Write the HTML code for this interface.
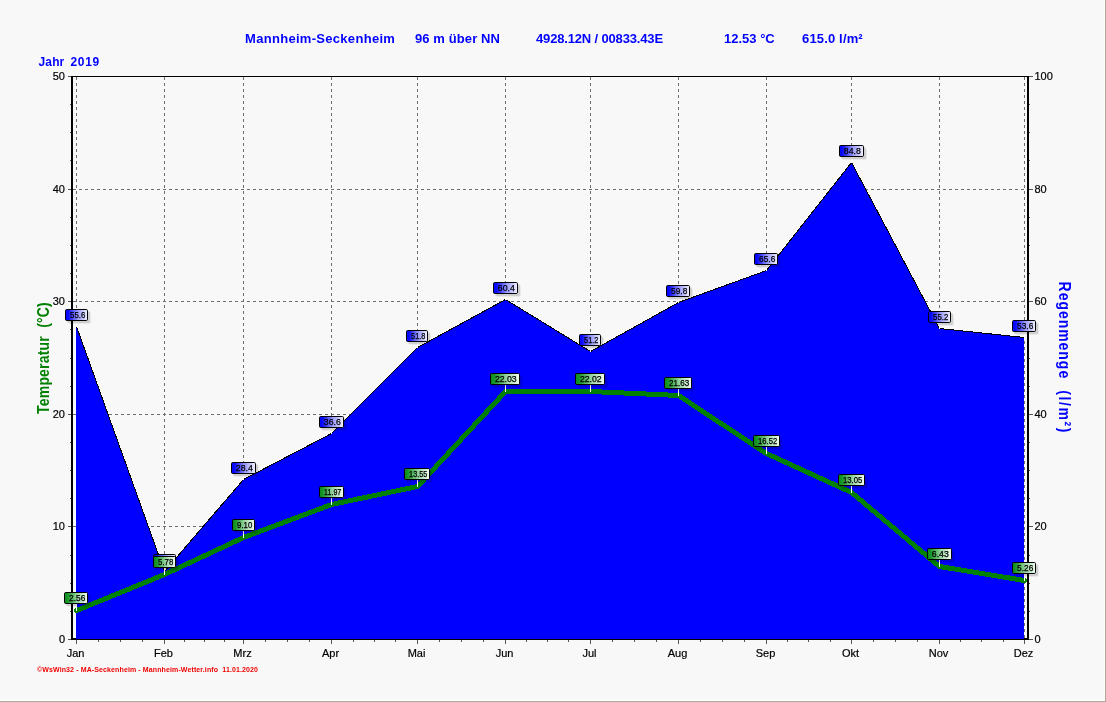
<!DOCTYPE html>
<html lang="de">
<head>
<meta charset="utf-8">
<title>Mannheim-Seckenheim Jahr 2019</title>
<style>
html,body{margin:0;padding:0;background:#f8f8f8;}
body{width:1106px;height:702px;overflow:hidden;position:relative;font-family:"Liberation Sans",Arial,sans-serif;}
svg{position:absolute;left:0;top:0;display:block;}
text{font-family:"Liberation Sans",Arial,sans-serif;}
.t{font-size:13px;font-weight:bold;fill:#0000ff;}
.tk{font-size:11px;fill:#000;stroke:#000;stroke-width:.2px;}
.lb{font-size:8.7px;fill:#000;text-anchor:middle;stroke:#000;stroke-width:.25px;}
.g{stroke:#6e6e6e;stroke-width:1;stroke-dasharray:3 3;shape-rendering:crispEdges;fill:none;}
.ax{fill:#000;shape-rendering:crispEdges;}
.mt{stroke:#555;stroke-width:1;shape-rendering:crispEdges;}
</style>
</head>
<body>
<svg width="1106" height="702" viewBox="0 0 1106 702">
<defs>
<linearGradient id="gb" x1="0" y1="0" x2="1" y2="0"><stop offset="0" stop-color="#0000ff"/><stop offset="0.14" stop-color="#0c0cff"/><stop offset="0.55" stop-color="#9898ff"/><stop offset="1" stop-color="#f2f2ff"/></linearGradient>
<linearGradient id="gg" x1="0" y1="0" x2="1" y2="0"><stop offset="0" stop-color="#0a8a1a"/><stop offset="0.14" stop-color="#189828"/><stop offset="0.55" stop-color="#98d4a0"/><stop offset="1" stop-color="#f2fff2"/></linearGradient>
</defs>
<rect x="0" y="0" width="1106" height="702" fill="#f8f8f8"/>
<rect class="ax" x="1104" y="0" width="1" height="701" style="fill:#fff"/>
<rect class="ax" x="0" y="700" width="1105" height="1" style="fill:#fff"/>
<rect class="ax" x="1105" y="0" width="1" height="702" style="fill:#aca899"/>
<rect class="ax" x="0" y="701" width="1106" height="1" style="fill:#aca899"/>

<text class="t" x="245" y="43" style="letter-spacing:.3px">Mannheim-Seckenheim</text>
<text class="t" x="415" y="43" style="letter-spacing:.1px">96 m über NN</text>
<text class="t" x="536" y="43" style="letter-spacing:-.16px">4928.12N / 00833.43E</text>
<text class="t" x="724" y="43">12.53 °C</text>
<text class="t" x="802" y="43" style="letter-spacing:.16px">615.0 l/m²</text>
<text class="t" x="38.6" y="66" style="font-size:12px;letter-spacing:.1px">Jahr</text>
<text class="t" x="70.6" y="66" style="font-size:12px;letter-spacing:.6px">2019</text>
<rect class="ax" x="71" y="76" width="958" height="1"/>
<rect class="ax" x="71" y="76" width="2" height="564"/>
<rect class="ax" x="1027" y="76" width="2" height="564"/>
<rect class="ax" x="71" y="638" width="958" height="2"/>
<path class="g" d="M73 526.5H1027"/>
<path class="g" d="M73 414.5H1027"/>
<path class="g" d="M73 301.5H1027"/>
<path class="g" d="M73 189.5H1027"/>
<path class="g" d="M76.5 77V639"/>
<path class="g" d="M164.5 77V639"/>
<path class="g" d="M243.5 77V639"/>
<path class="g" d="M331.5 77V639"/>
<path class="g" d="M417.5 77V639"/>
<path class="g" d="M505.5 77V639"/>
<path class="g" d="M590.5 77V639"/>
<path class="g" d="M678.5 77V639"/>
<path class="g" d="M766.5 77V639"/>
<path class="g" d="M851.5 77V639"/>
<path class="g" d="M939.5 77V639"/>
<path class="g" d="M1024.5 77V639"/>
<polygon points="76,639 76,326.5 76.5,326.5 164.5,571.5 243.5,479.5 331.5,433.5 417.5,347.5 505.5,299.5 590.5,351.5 678.5,302.5 766.5,270.5 851.5,162.5 939.5,328.5 1024.5,337.5 1024,337.5 1024,639" fill="#0000ff" shape-rendering="crispEdges"/>
<polyline points="76.5,326.5 164.5,571.5 243.5,479.5 331.5,433.5 417.5,347.5 505.5,299.5 590.5,351.5 678.5,302.5 766.5,270.5 851.5,162.5 939.5,328.5 1024.5,337.5" fill="none" stroke="#000" stroke-width="1" shape-rendering="crispEdges"/>
<polyline points="76.5,610.5 164.5,574.5 243.5,537.5 331.5,504.5 417.5,486.5 505.5,391.5 590.5,391.5 678.5,395.5 766.5,453.5 851.5,492.5 939.5,566.5 1024.5,580.5" fill="none" stroke="#008000" stroke-width="5" stroke-linejoin="round" stroke-linecap="round" shape-rendering="crispEdges"/>
<rect class="ax" x="68" y="639" width="3" height="1" style="fill:#555"/>
<rect class="ax" x="1029" y="639" width="4" height="1" style="fill:#555"/>
<rect class="ax" x="70" y="611" width="1" height="1" style="fill:#555"/>
<rect class="ax" x="1029" y="611" width="1" height="1" style="fill:#555"/>
<rect class="ax" x="70" y="583" width="1" height="1" style="fill:#555"/>
<rect class="ax" x="1029" y="583" width="1" height="1" style="fill:#555"/>
<rect class="ax" x="70" y="555" width="1" height="1" style="fill:#555"/>
<rect class="ax" x="1029" y="555" width="1" height="1" style="fill:#555"/>
<rect class="ax" x="68" y="526" width="3" height="1" style="fill:#555"/>
<rect class="ax" x="1029" y="526" width="4" height="1" style="fill:#555"/>
<rect class="ax" x="70" y="498" width="1" height="1" style="fill:#555"/>
<rect class="ax" x="1029" y="498" width="1" height="1" style="fill:#555"/>
<rect class="ax" x="70" y="470" width="1" height="1" style="fill:#555"/>
<rect class="ax" x="1029" y="470" width="1" height="1" style="fill:#555"/>
<rect class="ax" x="70" y="442" width="1" height="1" style="fill:#555"/>
<rect class="ax" x="1029" y="442" width="1" height="1" style="fill:#555"/>
<rect class="ax" x="68" y="414" width="3" height="1" style="fill:#555"/>
<rect class="ax" x="1029" y="414" width="4" height="1" style="fill:#555"/>
<rect class="ax" x="70" y="386" width="1" height="1" style="fill:#555"/>
<rect class="ax" x="1029" y="386" width="1" height="1" style="fill:#555"/>
<rect class="ax" x="70" y="358" width="1" height="1" style="fill:#555"/>
<rect class="ax" x="1029" y="358" width="1" height="1" style="fill:#555"/>
<rect class="ax" x="70" y="329" width="1" height="1" style="fill:#555"/>
<rect class="ax" x="1029" y="329" width="1" height="1" style="fill:#555"/>
<rect class="ax" x="68" y="301" width="3" height="1" style="fill:#555"/>
<rect class="ax" x="1029" y="301" width="4" height="1" style="fill:#555"/>
<rect class="ax" x="70" y="273" width="1" height="1" style="fill:#555"/>
<rect class="ax" x="1029" y="273" width="1" height="1" style="fill:#555"/>
<rect class="ax" x="70" y="245" width="1" height="1" style="fill:#555"/>
<rect class="ax" x="1029" y="245" width="1" height="1" style="fill:#555"/>
<rect class="ax" x="70" y="217" width="1" height="1" style="fill:#555"/>
<rect class="ax" x="1029" y="217" width="1" height="1" style="fill:#555"/>
<rect class="ax" x="68" y="189" width="3" height="1" style="fill:#555"/>
<rect class="ax" x="1029" y="189" width="4" height="1" style="fill:#555"/>
<rect class="ax" x="70" y="160" width="1" height="1" style="fill:#555"/>
<rect class="ax" x="1029" y="160" width="1" height="1" style="fill:#555"/>
<rect class="ax" x="70" y="132" width="1" height="1" style="fill:#555"/>
<rect class="ax" x="1029" y="132" width="1" height="1" style="fill:#555"/>
<rect class="ax" x="70" y="104" width="1" height="1" style="fill:#555"/>
<rect class="ax" x="1029" y="104" width="1" height="1" style="fill:#555"/>
<rect class="ax" x="68" y="76" width="3" height="1" style="fill:#555"/>
<rect class="ax" x="1029" y="76" width="4" height="1" style="fill:#555"/>
<text class="tk" x="65" y="643" text-anchor="end">0</text>
<text class="tk" x="1034.4" y="643">0</text>
<text class="tk" x="65" y="530" text-anchor="end">10</text>
<text class="tk" x="1034.4" y="530">20</text>
<text class="tk" x="65" y="418" text-anchor="end">20</text>
<text class="tk" x="1034.4" y="418">40</text>
<text class="tk" x="65" y="305" text-anchor="end">30</text>
<text class="tk" x="1034.4" y="305">60</text>
<text class="tk" x="65" y="193" text-anchor="end">40</text>
<text class="tk" x="1034.4" y="193">80</text>
<text class="tk" x="65" y="80" text-anchor="end">50</text>
<text class="tk" x="1034.4" y="80">100</text>
<rect class="ax" x="76" y="640" width="1" height="4" style="fill:#555"/>
<text class="tk" x="75.5" y="657" text-anchor="middle">Jan</text>
<rect class="ax" x="98" y="640" width="1" height="2" style="fill:#555"/>
<rect class="ax" x="120" y="640" width="1" height="2" style="fill:#555"/>
<rect class="ax" x="142" y="640" width="1" height="2" style="fill:#555"/>
<rect class="ax" x="164" y="640" width="1" height="4" style="fill:#555"/>
<text class="tk" x="163.5" y="657" text-anchor="middle">Feb</text>
<rect class="ax" x="184" y="640" width="1" height="2" style="fill:#555"/>
<rect class="ax" x="204" y="640" width="1" height="2" style="fill:#555"/>
<rect class="ax" x="224" y="640" width="1" height="2" style="fill:#555"/>
<rect class="ax" x="243" y="640" width="1" height="4" style="fill:#555"/>
<text class="tk" x="242.5" y="657" text-anchor="middle">Mrz</text>
<rect class="ax" x="265" y="640" width="1" height="2" style="fill:#555"/>
<rect class="ax" x="287" y="640" width="1" height="2" style="fill:#555"/>
<rect class="ax" x="309" y="640" width="1" height="2" style="fill:#555"/>
<rect class="ax" x="331" y="640" width="1" height="4" style="fill:#555"/>
<text class="tk" x="330.5" y="657" text-anchor="middle">Apr</text>
<rect class="ax" x="353" y="640" width="1" height="2" style="fill:#555"/>
<rect class="ax" x="374" y="640" width="1" height="2" style="fill:#555"/>
<rect class="ax" x="395" y="640" width="1" height="2" style="fill:#555"/>
<rect class="ax" x="417" y="640" width="1" height="4" style="fill:#555"/>
<text class="tk" x="416.5" y="657" text-anchor="middle">Mai</text>
<rect class="ax" x="439" y="640" width="1" height="2" style="fill:#555"/>
<rect class="ax" x="461" y="640" width="1" height="2" style="fill:#555"/>
<rect class="ax" x="483" y="640" width="1" height="2" style="fill:#555"/>
<rect class="ax" x="505" y="640" width="1" height="4" style="fill:#555"/>
<text class="tk" x="504.5" y="657" text-anchor="middle">Jun</text>
<rect class="ax" x="526" y="640" width="1" height="2" style="fill:#555"/>
<rect class="ax" x="547" y="640" width="1" height="2" style="fill:#555"/>
<rect class="ax" x="568" y="640" width="1" height="2" style="fill:#555"/>
<rect class="ax" x="590" y="640" width="1" height="4" style="fill:#555"/>
<text class="tk" x="589.5" y="657" text-anchor="middle">Jul</text>
<rect class="ax" x="612" y="640" width="1" height="2" style="fill:#555"/>
<rect class="ax" x="634" y="640" width="1" height="2" style="fill:#555"/>
<rect class="ax" x="656" y="640" width="1" height="2" style="fill:#555"/>
<rect class="ax" x="678" y="640" width="1" height="4" style="fill:#555"/>
<text class="tk" x="677.5" y="657" text-anchor="middle">Aug</text>
<rect class="ax" x="700" y="640" width="1" height="2" style="fill:#555"/>
<rect class="ax" x="722" y="640" width="1" height="2" style="fill:#555"/>
<rect class="ax" x="744" y="640" width="1" height="2" style="fill:#555"/>
<rect class="ax" x="766" y="640" width="1" height="4" style="fill:#555"/>
<text class="tk" x="765.5" y="657" text-anchor="middle">Sep</text>
<rect class="ax" x="787" y="640" width="1" height="2" style="fill:#555"/>
<rect class="ax" x="808" y="640" width="1" height="2" style="fill:#555"/>
<rect class="ax" x="830" y="640" width="1" height="2" style="fill:#555"/>
<rect class="ax" x="851" y="640" width="1" height="4" style="fill:#555"/>
<text class="tk" x="850.5" y="657" text-anchor="middle">Okt</text>
<rect class="ax" x="873" y="640" width="1" height="2" style="fill:#555"/>
<rect class="ax" x="895" y="640" width="1" height="2" style="fill:#555"/>
<rect class="ax" x="917" y="640" width="1" height="2" style="fill:#555"/>
<rect class="ax" x="939" y="640" width="1" height="4" style="fill:#555"/>
<text class="tk" x="938.5" y="657" text-anchor="middle">Nov</text>
<rect class="ax" x="960" y="640" width="1" height="2" style="fill:#555"/>
<rect class="ax" x="981" y="640" width="1" height="2" style="fill:#555"/>
<rect class="ax" x="1003" y="640" width="1" height="2" style="fill:#555"/>
<rect class="ax" x="1024" y="640" width="1" height="4" style="fill:#555"/>
<text class="tk" x="1023.5" y="657" text-anchor="middle">Dez</text>
<rect class="ax" x="76" y="321" width="1" height="6" style="fill:#fff"/>
<rect x="67" y="311" width="23" height="12" rx="1.5" fill="#000" opacity="0.1"/>
<rect x="68" y="312" width="23" height="12" rx="2" fill="#000" opacity="0.06"/>
<rect x="65.5" y="309.5" width="22" height="11" rx="1.2" fill="url(#gb)" stroke="#000" stroke-width="1"/>
<text class="lb" x="77.7" y="318.3" textLength="15.2" lengthAdjust="spacingAndGlyphs">55.6</text>
<rect class="ax" x="164" y="566" width="1" height="6" style="fill:#fff"/>
<rect x="155" y="556" width="23" height="12" rx="1.5" fill="#000" opacity="0.1"/>
<rect x="156" y="557" width="23" height="12" rx="2" fill="#000" opacity="0.06"/>
<rect x="153.5" y="554.5" width="22" height="11" rx="1.2" fill="url(#gb)" stroke="#000" stroke-width="1"/>
<text class="lb" x="165.7" y="563.3" textLength="15.2" lengthAdjust="spacingAndGlyphs">12.0</text>
<rect class="ax" x="243" y="474" width="1" height="6" style="fill:#fff"/>
<rect x="233" y="464" width="25" height="12" rx="1.5" fill="#000" opacity="0.1"/>
<rect x="234" y="465" width="25" height="12" rx="2" fill="#000" opacity="0.06"/>
<rect x="231.5" y="462.5" width="24" height="11" rx="1.2" fill="url(#gb)" stroke="#000" stroke-width="1"/>
<text class="lb" x="244.3" y="471.3">28.4</text>
<rect class="ax" x="331" y="428" width="1" height="6" style="fill:#fff"/>
<rect x="321" y="418" width="25" height="12" rx="1.5" fill="#000" opacity="0.1"/>
<rect x="322" y="419" width="25" height="12" rx="2" fill="#000" opacity="0.06"/>
<rect x="319.5" y="416.5" width="24" height="11" rx="1.2" fill="url(#gb)" stroke="#000" stroke-width="1"/>
<text class="lb" x="332.3" y="425.3">36.6</text>
<rect class="ax" x="417" y="342" width="1" height="6" style="fill:#fff"/>
<rect x="408" y="332" width="22" height="12" rx="1.5" fill="#000" opacity="0.1"/>
<rect x="409" y="333" width="22" height="12" rx="2" fill="#000" opacity="0.06"/>
<rect x="406.5" y="330.5" width="21" height="11" rx="1.2" fill="url(#gb)" stroke="#000" stroke-width="1"/>
<text class="lb" x="418.2" y="339.3" textLength="14.2" lengthAdjust="spacingAndGlyphs">51.8</text>
<rect class="ax" x="505" y="294" width="1" height="6" style="fill:#fff"/>
<rect x="495" y="284" width="25" height="12" rx="1.5" fill="#000" opacity="0.1"/>
<rect x="496" y="285" width="25" height="12" rx="2" fill="#000" opacity="0.06"/>
<rect x="493.5" y="282.5" width="24" height="11" rx="1.2" fill="url(#gb)" stroke="#000" stroke-width="1"/>
<text class="lb" x="506.3" y="291.3">60.4</text>
<rect class="ax" x="590" y="346" width="1" height="6" style="fill:#fff"/>
<rect x="581" y="336" width="22" height="12" rx="1.5" fill="#000" opacity="0.1"/>
<rect x="582" y="337" width="22" height="12" rx="2" fill="#000" opacity="0.06"/>
<rect x="579.5" y="334.5" width="21" height="11" rx="1.2" fill="url(#gb)" stroke="#000" stroke-width="1"/>
<text class="lb" x="591.2" y="343.3" textLength="14.2" lengthAdjust="spacingAndGlyphs">51.2</text>
<rect class="ax" x="678" y="297" width="1" height="6" style="fill:#fff"/>
<rect x="668" y="287" width="24" height="12" rx="1.5" fill="#000" opacity="0.1"/>
<rect x="669" y="288" width="24" height="12" rx="2" fill="#000" opacity="0.06"/>
<rect x="666.5" y="285.5" width="23" height="11" rx="1.2" fill="url(#gb)" stroke="#000" stroke-width="1"/>
<text class="lb" x="679.2" y="294.3" textLength="16.2" lengthAdjust="spacingAndGlyphs">59.8</text>
<rect class="ax" x="766" y="265" width="1" height="6" style="fill:#fff"/>
<rect x="756" y="255" width="24" height="12" rx="1.5" fill="#000" opacity="0.1"/>
<rect x="757" y="256" width="24" height="12" rx="2" fill="#000" opacity="0.06"/>
<rect x="754.5" y="253.5" width="23" height="11" rx="1.2" fill="url(#gb)" stroke="#000" stroke-width="1"/>
<text class="lb" x="767.2" y="262.3" textLength="16.2" lengthAdjust="spacingAndGlyphs">65.6</text>
<rect class="ax" x="851" y="157" width="1" height="6" style="fill:#fff"/>
<rect x="841" y="147" width="25" height="12" rx="1.5" fill="#000" opacity="0.1"/>
<rect x="842" y="148" width="25" height="12" rx="2" fill="#000" opacity="0.06"/>
<rect x="839.5" y="145.5" width="24" height="11" rx="1.2" fill="url(#gb)" stroke="#000" stroke-width="1"/>
<text class="lb" x="852.3" y="154.3">84.8</text>
<rect class="ax" x="939" y="323" width="1" height="6" style="fill:#fff"/>
<rect x="930" y="313" width="23" height="12" rx="1.5" fill="#000" opacity="0.1"/>
<rect x="931" y="314" width="23" height="12" rx="2" fill="#000" opacity="0.06"/>
<rect x="928.5" y="311.5" width="22" height="11" rx="1.2" fill="url(#gb)" stroke="#000" stroke-width="1"/>
<text class="lb" x="940.7" y="320.3" textLength="15.2" lengthAdjust="spacingAndGlyphs">55.2</text>
<rect class="ax" x="1024" y="332" width="1" height="6" style="fill:#fff"/>
<rect x="1014" y="322" width="24" height="12" rx="1.5" fill="#000" opacity="0.1"/>
<rect x="1015" y="323" width="24" height="12" rx="2" fill="#000" opacity="0.06"/>
<rect x="1012.5" y="320.5" width="23" height="11" rx="1.2" fill="url(#gb)" stroke="#000" stroke-width="1"/>
<text class="lb" x="1025.2" y="329.3" textLength="16.2" lengthAdjust="spacingAndGlyphs">53.6</text>
<rect class="ax" x="76" y="604" width="1" height="7" style="fill:#fff"/>
<rect x="66" y="594" width="24" height="12" rx="1.5" fill="#000" opacity="0.1"/>
<rect x="67" y="595" width="24" height="12" rx="2" fill="#000" opacity="0.06"/>
<rect x="64.5" y="592.5" width="23" height="11" rx="1.2" fill="url(#gg)" stroke="#000" stroke-width="1"/>
<text class="lb" x="77.2" y="601.3" textLength="16.2" lengthAdjust="spacingAndGlyphs">2.56</text>
<rect class="ax" x="164" y="568" width="1" height="7" style="fill:#fff"/>
<rect x="155" y="558" width="23" height="12" rx="1.5" fill="#000" opacity="0.1"/>
<rect x="156" y="559" width="23" height="12" rx="2" fill="#000" opacity="0.06"/>
<rect x="153.5" y="556.5" width="22" height="11" rx="1.2" fill="url(#gg)" stroke="#000" stroke-width="1"/>
<text class="lb" x="165.7" y="565.3" textLength="15.2" lengthAdjust="spacingAndGlyphs">5.78</text>
<rect class="ax" x="243" y="531" width="1" height="7" style="fill:#fff"/>
<rect x="234" y="521" width="23" height="12" rx="1.5" fill="#000" opacity="0.1"/>
<rect x="235" y="522" width="23" height="12" rx="2" fill="#000" opacity="0.06"/>
<rect x="232.5" y="519.5" width="22" height="11" rx="1.2" fill="url(#gg)" stroke="#000" stroke-width="1"/>
<text class="lb" x="244.7" y="528.3" textLength="15.2" lengthAdjust="spacingAndGlyphs">9.10</text>
<rect class="ax" x="331" y="498" width="1" height="7" style="fill:#fff"/>
<rect x="321" y="488" width="25" height="12" rx="1.5" fill="#000" opacity="0.1"/>
<rect x="322" y="489" width="25" height="12" rx="2" fill="#000" opacity="0.06"/>
<rect x="319.5" y="486.5" width="24" height="11" rx="1.2" fill="url(#gg)" stroke="#000" stroke-width="1"/>
<text class="lb" x="332.7" y="495.3" textLength="17.2" lengthAdjust="spacingAndGlyphs">11.97</text>
<rect class="ax" x="417" y="480" width="1" height="7" style="fill:#fff"/>
<rect x="406" y="470" width="26" height="12" rx="1.5" fill="#000" opacity="0.1"/>
<rect x="407" y="471" width="26" height="12" rx="2" fill="#000" opacity="0.06"/>
<rect x="404.5" y="468.5" width="25" height="11" rx="1.2" fill="url(#gg)" stroke="#000" stroke-width="1"/>
<text class="lb" x="418.2" y="477.3" textLength="18.2" lengthAdjust="spacingAndGlyphs">13.55</text>
<rect class="ax" x="505" y="385" width="1" height="7" style="fill:#fff"/>
<rect x="492" y="375" width="30" height="12" rx="1.5" fill="#000" opacity="0.1"/>
<rect x="493" y="376" width="30" height="12" rx="2" fill="#000" opacity="0.06"/>
<rect x="490.5" y="373.5" width="29" height="11" rx="1.2" fill="url(#gg)" stroke="#000" stroke-width="1"/>
<text class="lb" x="505.8" y="382.3">22.03</text>
<rect class="ax" x="590" y="385" width="1" height="7" style="fill:#fff"/>
<rect x="577" y="375" width="30" height="12" rx="1.5" fill="#000" opacity="0.1"/>
<rect x="578" y="376" width="30" height="12" rx="2" fill="#000" opacity="0.06"/>
<rect x="575.5" y="373.5" width="29" height="11" rx="1.2" fill="url(#gg)" stroke="#000" stroke-width="1"/>
<text class="lb" x="590.8" y="382.3">22.02</text>
<rect class="ax" x="678" y="389" width="1" height="7" style="fill:#fff"/>
<rect x="666" y="379" width="28" height="12" rx="1.5" fill="#000" opacity="0.1"/>
<rect x="667" y="380" width="28" height="12" rx="2" fill="#000" opacity="0.06"/>
<rect x="664.5" y="377.5" width="27" height="11" rx="1.2" fill="url(#gg)" stroke="#000" stroke-width="1"/>
<text class="lb" x="679.2" y="386.3" textLength="20.2" lengthAdjust="spacingAndGlyphs">21.63</text>
<rect class="ax" x="766" y="447" width="1" height="7" style="fill:#fff"/>
<rect x="755" y="437" width="27" height="12" rx="1.5" fill="#000" opacity="0.1"/>
<rect x="756" y="438" width="27" height="12" rx="2" fill="#000" opacity="0.06"/>
<rect x="753.5" y="435.5" width="26" height="11" rx="1.2" fill="url(#gg)" stroke="#000" stroke-width="1"/>
<text class="lb" x="767.7" y="444.3" textLength="19.2" lengthAdjust="spacingAndGlyphs">16.52</text>
<rect class="ax" x="851" y="486" width="1" height="7" style="fill:#fff"/>
<rect x="840" y="476" width="27" height="12" rx="1.5" fill="#000" opacity="0.1"/>
<rect x="841" y="477" width="27" height="12" rx="2" fill="#000" opacity="0.06"/>
<rect x="838.5" y="474.5" width="26" height="11" rx="1.2" fill="url(#gg)" stroke="#000" stroke-width="1"/>
<text class="lb" x="852.7" y="483.3" textLength="19.2" lengthAdjust="spacingAndGlyphs">13.05</text>
<rect class="ax" x="939" y="560" width="1" height="7" style="fill:#fff"/>
<rect x="929" y="550" width="25" height="12" rx="1.5" fill="#000" opacity="0.1"/>
<rect x="930" y="551" width="25" height="12" rx="2" fill="#000" opacity="0.06"/>
<rect x="927.5" y="548.5" width="24" height="11" rx="1.2" fill="url(#gg)" stroke="#000" stroke-width="1"/>
<text class="lb" x="940.3" y="557.3">6.43</text>
<rect class="ax" x="1024" y="574" width="1" height="7" style="fill:#fff"/>
<rect x="1014" y="564" width="24" height="12" rx="1.5" fill="#000" opacity="0.1"/>
<rect x="1015" y="565" width="24" height="12" rx="2" fill="#000" opacity="0.06"/>
<rect x="1012.5" y="562.5" width="23" height="11" rx="1.2" fill="url(#gg)" stroke="#000" stroke-width="1"/>
<text class="lb" x="1025.2" y="571.3" textLength="16.2" lengthAdjust="spacingAndGlyphs">5.26</text>
<text transform="translate(48.8,358) rotate(-90) scale(1,1.13)" text-anchor="middle" style="font-size:14px;font-weight:bold;fill:#008000;letter-spacing:.2px;white-space:pre" xml:space="preserve">Temperatur  (°C)</text>
<text transform="translate(1058.5,281.6) rotate(90) scale(1,1.14)" style="font-size:14px;font-weight:bold;fill:#0000ff;letter-spacing:.97px">Regenmenge</text>
<text transform="translate(1058.5,390.2) rotate(90) scale(1,1.14)" style="font-size:14px;font-weight:bold;fill:#0000ff;letter-spacing:1.6px">(l/m²)</text>
<text x="37" y="672" textLength="221" lengthAdjust="spacing" style="font-size:7px;font-weight:bold;fill:#f00000;white-space:pre" xml:space="preserve">©WsWin32 - MA-Seckenheim - Mannheim-Wetter.info  11.01.2020</text>
</svg>
</body>
</html>
